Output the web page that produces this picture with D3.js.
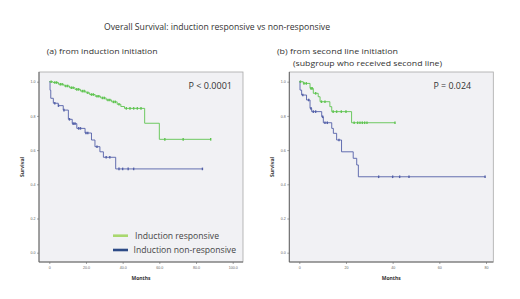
<!DOCTYPE html>
<html>
<head>
<meta charset="utf-8">
<script src="https://cdn.jsdelivr.net/npm/d3@7"></script>
<style>
    body { margin: 0; background: #fff; }
    svg { display: block; font-family: "Open Sans", "Liberation Sans", sans-serif; }
    .title { font-size: 8.6px; fill: #333; }
    .sub { font-size: 8px; fill: #333; }
    .pval { font-size: 8.6px; fill: #333; }
    .legend-text { font-size: 8.6px; fill: #444; }
    .axis text { font-size: 3.6px; fill: #666; }
    .axis line { stroke: #666; stroke-width: .6; }
    .axis-title { font-size: 5px; font-weight: bold; fill: #333; }
</style>
</head>
<body>
<script>

// Panel (a): months from induction initiation
const respA = [[0,1.0],[2,0.995],[5,0.985],[8,0.975],[11,0.965],[14,0.955],[17,0.945],[20,0.935],[22,0.925],[25,0.915],[28,0.905],[31,0.893],[34,0.882],[37,0.868],[39,0.855],[41,0.844],[52,0.757],[60,0.663],[88,0.663]];
const nonA = [[0,1.0],[0.4,0.95],[0.8,0.903],[2.2,0.874],[4.9,0.86],[7.6,0.834],[10.4,0.78],[12.5,0.755],[15,0.727],[19.5,0.70],[23,0.659],[24.9,0.62],[27.6,0.59],[29.5,0.558],[36.2,0.49],[83.5,0.49]];
const censRespA = [1,3,4,6,7,9,10,12,13,15,16,18,19,21,23,24,26,27,29,30,32,33,35,36,38,42,44,46,48,50,63,73,88];
const censNonA = [3,5,8,11,13,14,16,17,20,21,26,31,33,38,40,43,46,83.5];

// Panel (b): months from second line initiation
const respB = [[0,1.0],[1.7,0.99],[4.6,0.961],[6,0.932],[8.1,0.912],[8.9,0.883],[13.1,0.854],[13.9,0.825],[22.4,0.76],[41,0.76]];
const nonB = [[0,1.0],[0.3,0.951],[1,0.922],[3.1,0.893],[4.6,0.844],[5.3,0.825],[9.6,0.795],[10.3,0.76],[13.9,0.727],[14.6,0.698],[16,0.659],[18.1,0.59],[23.1,0.552],[24.6,0.513],[25.3,0.444],[79.6,0.444]];
const censRespB = [0.5,2,3,5,5.5,7,9.5,11,14.5,16,18,20,23.5,25,26,27,28,29,41];
const censNonB = [1.5,4,5,6,7,10,11,12,17,34,40,43,47,79.6];

const yTicks = [0, 0.2, 0.4, 0.6, 0.8, 1.0];
const xTicksA = [0, 20, 40, 60, 80, 100];
const xTicksB = [0, 20, 40, 60, 80];

const dim = { width: 520, height: 299 };
const colors = { resp: "#5fc450", non: "#5360a8", legResp: "#a9d86e", legNon: "#2d4a86" };

const svg = d3.select("body").append("svg")
    .attr("width", dim.width)
    .attr("height", dim.height);

function addText(parent, cls, x, y, len, str) {
    return parent.append("text")
        .attr("class", cls)
        .attr("x", x).attr("y", y)
        .attr("textLength", len)
        .attr("lengthAdjust", "spacingAndGlyphs")
        .text(str);
}

addText(svg, "title", 104, 30, 226, "Overall Survival: induction responsive vs non-responsive");
addText(svg, "sub", 46.7, 54, 111, "(a) from induction initiation");
addText(svg, "sub", 277, 54, 121, "(b)  from second line initiation");
addText(svg, "sub", 293, 66, 149, "(subgroup who received second line)");

function drawPanel(frame, xDomain, xRange, xTicks, xFmt, resp, non, censResp, censNon, pText, pX, pLen) {

    const x = d3.scaleLinear().domain(xDomain).range(xRange);
    const y = d3.scaleLinear().domain([0, 1]).range([252.7, 81.7]);

    const g = svg.append("g");

    g.append("rect")
        .attr("x", frame.x0).attr("y", frame.y0)
        .attr("width", frame.x1 - frame.x0)
        .attr("height", frame.y1 - frame.y0)
        .style("fill", "#f1f1f4")
        .style("stroke", "#a8a8a8")
        .style("stroke-width", 0.8);

    // axis lines
    g.append("path")
        .attr("d", `M${frame.x0},${frame.y0}V${frame.y1}H${frame.x1}`)
        .style("fill", "none").style("stroke", "#666").style("stroke-width", 1);

    const yAxis = d3.axisLeft(y).tickValues(yTicks).tickFormat(d3.format(".1f")).tickSize(2).tickPadding(1.5);
    g.append("g")
        .attr("class", "axis")
        .attr("transform", `translate(${frame.x0},0)`)
        .call(yAxis)
        .call(s => s.select(".domain").remove());

    const xAxis = d3.axisBottom(x).tickValues(xTicks).tickFormat(xFmt).tickSize(2).tickPadding(2.5);
    g.append("g")
        .attr("class", "axis")
        .attr("transform", `translate(0,${frame.y1})`)
        .call(xAxis)
        .call(s => s.select(".domain").remove());

    g.append("text")
        .attr("class", "axis-title")
        .attr("text-anchor", "middle")
        .attr("transform", `translate(${frame.x0 - 15},${(frame.y0 + frame.y1) / 2}) rotate(-90)`)
        .text("Survival");

    g.append("text")
        .attr("class", "axis-title")
        .attr("text-anchor", "middle")
        .attr("x", (frame.x0 + frame.x1) / 2).attr("y", 280)
        .text("Months");

    const line = d3.line()
        .curve(d3.curveStepAfter)
        .x(d => x(d[0]))
        .y(d => y(d[1]));

    const stepValue = (data, t) => {
        let v = data[0][1];
        data.forEach(d => { if (d[0] <= t) v = d[1]; });
        return v;
    };

    [[non, censNon, colors.non], [resp, censResp, colors.resp]].forEach(([data, cens, c]) => {
        g.append("path")
            .attr("d", line(data))
            .style("fill", "none")
            .style("stroke", c)
            .style("stroke-width", 0.9);
        g.append("g")
            .selectAll("line")
            .data(cens)
            .join("line")
            .attr("x1", d => x(d)).attr("x2", d => x(d))
            .attr("y1", d => y(stepValue(data, d)) - 1.3)
            .attr("y2", d => y(stepValue(data, d)) + 1.3)
            .style("stroke", c)
            .style("stroke-width", 1.4);
    });

    addText(g, "pval", pX, 89, pLen, pText);

    return g;
}

const gA = drawPanel({ x0: 39, x1: 243, y0: 72, y1: 262 }, [0, 100], [49.3, 232.7], xTicksA,
    d => d === 0 ? "0" : d3.format(".1f")(d), respA, nonA, censRespA, censNonA, "P < 0.0001", 188.5, 43.5);

drawPanel({ x0: 289.3, x1: 493.3, y0: 72, y1: 262 }, [0, 80], [299.3, 486], xTicksB,
    d3.format("d"), respB, nonB, censRespB, censNonB, "P = 0.024", 433.5, 37.5);

// legend
const legend = [["Induction responsive", colors.legResp, 235.7, 135, 84], ["Induction non-responsive", colors.legNon, 250, 133.5, 102.5]];
legend.forEach(([label, c, ly, tx, len]) => {
    gA.append("line")
        .attr("x1", 113).attr("x2", 128)
        .attr("y1", ly).attr("y2", ly)
        .style("stroke", c).style("stroke-width", 2.6);
    addText(gA, "legend-text", tx, ly + 3, len, label);
});

</script>
</body>
</html>
